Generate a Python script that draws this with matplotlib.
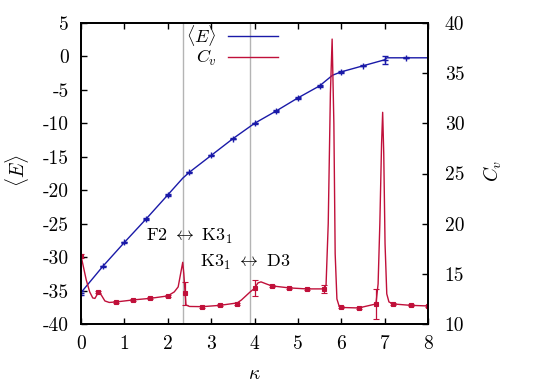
import matplotlib
matplotlib.use("Agg")
import matplotlib.pyplot as plt

plt.rcParams['font.family'] = 'cmr10'
plt.rcParams['mathtext.fontset'] = 'cm'
plt.rcParams['axes.unicode_minus'] = False

# <E> : smooth curve points and the sampled markers with error bars
e_kappa = [0.0, 0.5, 1.0, 1.5, 2.0, 2.345, 2.5, 3.0, 3.5, 4.0, 4.5, 5.0, 5.5,
           5.8, 6.0, 6.5, 7.0, 7.05, 7.5, 8.0]
e_curve = [-35.3, -31.4, -27.8, -24.3, -20.7, -18.2, -17.3, -14.8, -12.3, -10.0,
           -8.15, -6.2, -4.4, -2.8, -2.3, -1.4, -0.5, -0.2, -0.2, -0.2]
e_mk_kappa = [0.0, 0.5, 1.0, 1.5, 2.0, 2.5, 3.0, 3.5, 4.0, 4.5, 5.0, 5.5, 6.0, 6.5, 7.0, 7.5]
e_mk = [-35.3, -31.4, -27.8, -24.3, -20.7, -17.3, -14.8, -12.3, -10.0, -8.15,
        -6.2, -4.4, -2.3, -1.4, -0.5, -0.2]
e_err = [0.3, 0.1, 0.1, 0.1, 0.1, 0.1, 0.1, 0.1, 0.1, 0.1, 0.1, 0.1, 0.1, 0.1, 0.6, 0.1]

# C_v : curve and markers
cv_kappa = [0.0, 0.06, 0.12, 0.2, 0.27, 0.32, 0.38, 0.42, 0.48, 0.55, 0.65, 0.81,
            1.2, 1.6, 2.0, 2.15, 2.24, 2.3, 2.345, 2.37, 2.4, 2.42, 2.5, 2.8, 3.2,
            3.6, 3.7, 3.8, 3.9, 4.0, 4.08, 4.15, 4.3, 4.4, 4.8, 5.2, 5.6, 5.65,
            5.7, 5.75, 5.79, 5.83, 5.86, 5.9, 5.95, 6.0, 6.4, 6.8, 6.85, 6.89,
            6.93, 6.955, 6.98, 7.01, 7.05, 7.1, 7.2, 7.6, 8.0]
cv_curve = [16.8, 15.6, 14.4, 13.2, 12.6, 12.55, 13.0, 13.2, 12.8, 12.3, 12.15, 12.2,
            12.4, 12.56, 12.8, 13.2, 13.7, 15.1, 16.15, 15.0, 13.1, 11.9, 11.75, 11.73, 11.86,
            12.1, 12.4, 12.8, 13.2, 13.56, 14.1, 14.2, 13.95, 13.8, 13.6, 13.5, 13.5, 13.9,
            20.0, 33.0, 38.4, 30.0, 17.0, 12.5, 11.8, 11.65, 11.6, 12.0, 14.0, 20.0,
            28.0, 31.1, 27.0, 18.0, 13.0, 12.2, 12.0, 11.86, 11.8]
cv_mk_kappa = [0.0, 0.4, 0.8, 1.2, 1.6, 2.0, 2.4, 2.8, 3.2, 3.6, 4.0, 4.4, 4.8, 5.2,
               5.6, 6.0, 6.4, 6.8, 7.2, 7.6, 8.0]
cv_mk = [16.8, 13.2, 12.2, 12.4, 12.56, 12.8, 13.06, 11.73, 11.86, 12.0, 13.56, 13.8,
         13.6, 13.5, 13.5, 11.65, 11.6, 12.0, 12.0, 11.86, 11.8]
cv_err = [0.2, 0.1, 0.1, 0.1, 0.1, 0.1, 1.16, 0.1, 0.1, 0.1, 0.8, 0.1, 0.1, 0.1,
          0.4, 0.1, 0.1, 1.48, 0.1, 0.1, 0.1]

transitions = [2.345, 3.9]

blue = '#1a1aa8'
red = '#c0103a'

fig = plt.figure(figsize=(5.38, 3.85), dpi=100)
ax = fig.add_axes([0.1506, 0.1584, 0.6449, 0.7818])
ax2 = ax.twinx()

for k in transitions:
    ax.axvline(k, color='#b4b4b4', lw=1.0, zorder=0)

ax.plot(e_kappa, e_curve, color=blue, lw=1.0, label=r'$\langle E\rangle$')
ax.errorbar(e_mk_kappa, e_mk, yerr=e_err, fmt='+', color=blue, ms=5, mew=1.0,
            elinewidth=0.9, capsize=2.5)
ax2.plot(cv_kappa, cv_curve, color=red, lw=1.0)
ax2.errorbar(cv_mk_kappa, cv_mk, yerr=cv_err, fmt='s', color=red, ms=3.5, mew=0.8,
             elinewidth=0.9, capsize=2.5)
ax.plot([], [], color=red, lw=1.0, label=r'$C_v$')

ax.set_xlim(0, 8)
ax.set_ylim(-40, 5)
ax2.set_ylim(10, 40)

ax.set_xticks(range(0, 9))
ax.set_xticklabels([str(i) for i in range(0, 9)])
yt = list(range(-40, 6, 5))
ax.set_yticks(yt)
ax.set_yticklabels([str(v) for v in yt])
yt2 = list(range(10, 41, 5))
ax2.set_yticks(yt2)
ax2.set_yticklabels([str(v) for v in yt2])

ax.tick_params(axis='x', direction='in', top=True, length=4.5, width=1.0, labelsize=14, pad=8)
ax.tick_params(axis='y', direction='in', length=4.5, width=1.0, labelsize=14, pad=9)
ax2.tick_params(axis='y', direction='in', length=4.5, width=1.0, labelsize=14, pad=12)
for a in (ax, ax2):
    for s in a.spines.values():
        s.set_linewidth(1.3)

ax.set_xlabel(r'$\kappa$', fontsize=14)
ax.xaxis.set_label_coords(0.5, -0.135)
ax.set_ylabel(r'$\langle E\rangle$', fontsize=14)
ax.yaxis.set_label_coords(-0.145, 0.51)
ax2.set_ylabel(r'$C_v$', fontsize=14)
ax2.yaxis.set_label_coords(1.155, 0.51)

ax.text(2.51, -26.9, r'$\mathrm{F2}\ \leftrightarrow\ \mathrm{K3}_1$', fontsize=13,
        ha='center', va='center')
ax.text(3.78, -30.8, r'$\mathrm{K3}_1\ \leftrightarrow\ \mathrm{D3}$', fontsize=13,
        ha='center', va='center')

ax.legend(loc='upper right', bbox_to_anchor=(0.595, 1.03), frameon=False, fontsize=13,
          markerfirst=False, handlelength=2.8, handletextpad=0.6, labelspacing=0.0,
          borderaxespad=0.1)

ax2.set_zorder(ax.get_zorder() + 1)
ax2.patch.set_visible(False)

fig.savefig('out.png', dpi=100)
